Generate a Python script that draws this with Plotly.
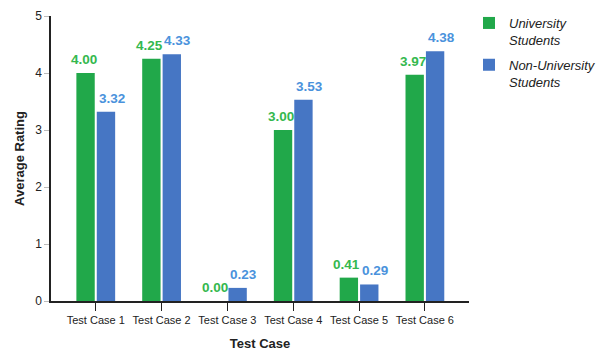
import plotly.graph_objects as go

categories = ["Test Case 1", "Test Case 2", "Test Case 3", "Test Case 4", "Test Case 5", "Test Case 6"]
university = [4.00, 4.25, 0.00, 3.00, 0.41, 3.97]
non_university = [3.32, 4.33, 0.23, 3.53, 0.29, 4.38]

GREEN = "#21a84a"
BLUE = "#4676c4"
GREEN_TXT = "#34b84e"
BLUE_TXT = "#4a92dc"
FONT = "Liberation Sans, Arial"

fig = go.Figure()
fig.add_trace(go.Bar(x=categories, y=university, name="University<br>Students",
                     legendgroup="u", marker=dict(color=GREEN, line=dict(width=0))))
fig.add_trace(go.Bar(x=categories, y=non_university, name="Non-University<br>Students",
                     legendgroup="n", marker=dict(color=BLUE, line=dict(width=0))))

# value labels above each bar
annotations = []
bar_off = 0.155
for i, (u, n) in enumerate(zip(university, non_university)):
    for val, dx, shift, col in ((u, -bar_off, -2, GREEN_TXT), (n, bar_off, 6, BLUE_TXT)):
        annotations.append(dict(x=i + dx, y=val, xref="x", yref="y", text=f"{val:.2f}",
                                showarrow=False, yanchor="bottom", yshift=4, xshift=shift,
                                font=dict(family=FONT, size=13.5, color=col, weight="bold")))

fig.update_layout(
    width=600, height=351,
    margin=dict(l=51, r=130, t=16, b=50),
    paper_bgcolor="white", plot_bgcolor="white",
    barmode="group", bargap=0.38, bargroupgap=0.1,
    font=dict(family=FONT, color="#222"),
    annotations=annotations,
    legend=dict(xref="container", yref="container", x=469 / 600, y=1 - 8 / 351,
                xanchor="left", yanchor="top", valign="top",
                font=dict(family=FONT, size=13, style="italic", color="#222"),
                tracegroupgap=5, traceorder="grouped"),
    xaxis=dict(range=[-0.68, 5.67], showline=True, linecolor="#222", linewidth=1.5,
               ticks="outside", ticklen=8, tickcolor="#222", tickwidth=1,
               tickfont=dict(size=11, color="#222"), showgrid=False, automargin=False,
               title=dict(text="<b>Test Case</b>", font=dict(size=13), standoff=14)),
    yaxis=dict(range=[0, 5], dtick=1, showline=True, linecolor="#222", linewidth=1.5,
               ticks="outside", ticklen=5, tickcolor="#bbb", tickwidth=1,
               tickfont=dict(size=12, color="#222"), showgrid=False, zeroline=False,
               automargin=False,
               title=dict(text="<b>Average Rating</b>", font=dict(size=13), standoff=8)),
)

fig.write_html("out.html")
